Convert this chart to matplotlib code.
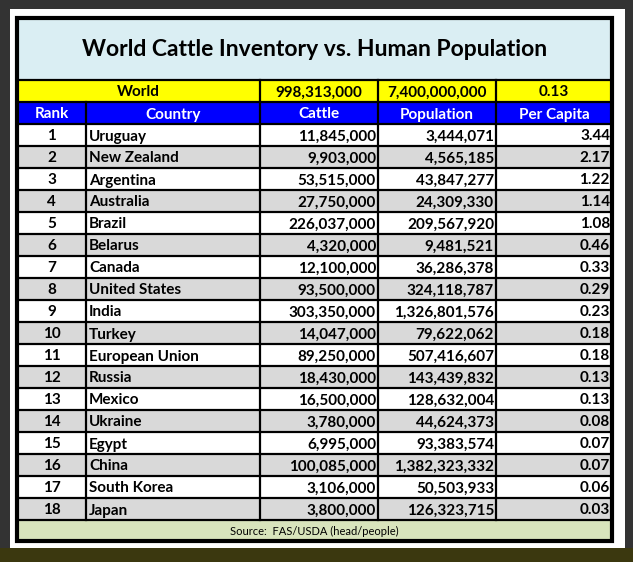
import matplotlib.pyplot as plt
from matplotlib.patches import Rectangle

ranks = list(range(1, 19))
countries = ["Uruguay", "New Zealand", "Argentina", "Australia", "Brazil", "Belarus",
             "Canada", "United States", "India", "Turkey", "European Union", "Russia",
             "Mexico", "Ukraine", "Egypt", "China", "South Korea", "Japan"]
cattle = [11845000, 9903000, 53515000, 27750000, 226037000, 4320000, 12100000,
          93500000, 303350000, 14047000, 89250000, 18430000, 16500000, 3780000,
          6995000, 100085000, 3106000, 3800000]
population = [3444071, 4565185, 43847277, 24309330, 209567920, 9481521, 36286378,
              324118787, 1326801576, 79622062, 507416607, 143439832, 128632004,
              44624373, 93383574, 1382323332, 50503933, 126323715]
per_capita = [3.44, 2.17, 1.22, 1.14, 1.08, 0.46, 0.33, 0.29, 0.23, 0.18, 0.18,
              0.13, 0.13, 0.08, 0.07, 0.07, 0.06, 0.03]
world = ["World", "998,313,000", "7,400,000,000", "0.13"]
headers = ["Rank", "Country", "Cattle", "Population", "Per Capita"]

plt.rcParams['font.family'] = ['Lato', 'DejaVu Sans']
fig = plt.figure(figsize=(6.33, 5.62), dpi=100)
fig.patch.set_facecolor("#333333")
ax = fig.add_axes([0, 0, 1, 1])
ax.set_xlim(0, 633)
ax.set_ylim(562, 0)
ax.axis("off")

def rect(x0, y0, x1, y1, color, **kw):
    ax.add_patch(Rectangle((x0, y0), x1 - x0, y1 - y0, facecolor=color, edgecolor="none", **kw))

rect(0, 548, 633, 562, "#3b380f")
rect(10, 9, 625, 548, "white")

L, R = 17, 612
cols = [L, 86, 260, 378, 496, R]
top, t_bot, w_bot, h_bot = 18, 80, 102, 124
rh = 22
d_bot = h_bot + rh * len(ranks)
s_bot = 541

rect(L, top, R, t_bot, "#daeef3")
rect(L, t_bot, R, w_bot, "#ffff00")
rect(L, w_bot, R, h_bot, "#0000ff")
for i in range(len(ranks)):
    y0 = h_bot + i * rh
    rect(L, y0, R, y0 + rh, "#d9d9d9" if i % 2 else "white")
rect(L, d_bot, R, s_bot, "#d8e4bc")

fs = 11
dy = 1.5  # nudge text slightly downward inside cells
ax.text((L + R) / 2, (top + t_bot) / 2 + 1, "World Cattle Inventory vs. Human Population",
        ha="center", va="center", fontsize=16.5, fontweight="bold")

wm = (t_bot + w_bot) / 2 + dy
ax.text((cols[0] + cols[2]) / 2, wm, world[0], ha="center", va="center", fontsize=fs, fontweight="bold")
for j in range(1, 4):
    ax.text((cols[j + 1] + cols[j + 2]) / 2, wm, world[j], ha="center", va="center", fontsize=fs, fontweight="bold")

hm = (w_bot + h_bot) / 2 + dy
for j, h in enumerate(headers):
    ax.text((cols[j] + cols[j + 1]) / 2, hm, h, ha="center", va="center", fontsize=fs,
            fontweight="bold", color="white")

for i in range(len(ranks)):
    ym = h_bot + i * rh + rh / 2 + dy
    ax.text((cols[0] + cols[1]) / 2, ym, str(ranks[i]), ha="center", va="center", fontsize=fs, fontweight="bold")
    ax.text(cols[1] + 3, ym, countries[i], ha="left", va="center", fontsize=fs, fontweight="bold")
    ax.text(cols[3] - 2, ym, f"{cattle[i]:,}", ha="right", va="center", fontsize=fs, fontweight="bold")
    ax.text(cols[4] - 2, ym, f"{population[i]:,}", ha="right", va="center", fontsize=fs, fontweight="bold")
    ax.text(cols[5] - 2, ym, f"{per_capita[i]:.2f}", ha="right", va="center", fontsize=fs, fontweight="bold")

ax.text((L + R) / 2, (d_bot + s_bot) / 2 + 1, "Source:  FAS/USDA (head/people)",
        ha="center", va="center", fontsize=8)

# grid lines
lw = 1.6
for y in [t_bot, w_bot, h_bot] + [h_bot + i * rh for i in range(1, len(ranks) + 1)]:
    ax.plot([L, R], [y, y], color="black", lw=lw)
ax.plot([cols[2], cols[2]], [t_bot, w_bot], color="black", lw=lw)
for x in cols[3:5]:
    ax.plot([x, x], [t_bot, d_bot], color="black", lw=lw)
for x in cols[1:3]:
    ax.plot([x, x], [w_bot, d_bot], color="black", lw=lw)
ax.add_patch(Rectangle((L, top), R - L, s_bot - top, fill=False, edgecolor="black", lw=3))

fig.savefig("out.png", dpi=100, facecolor=fig.get_facecolor())
